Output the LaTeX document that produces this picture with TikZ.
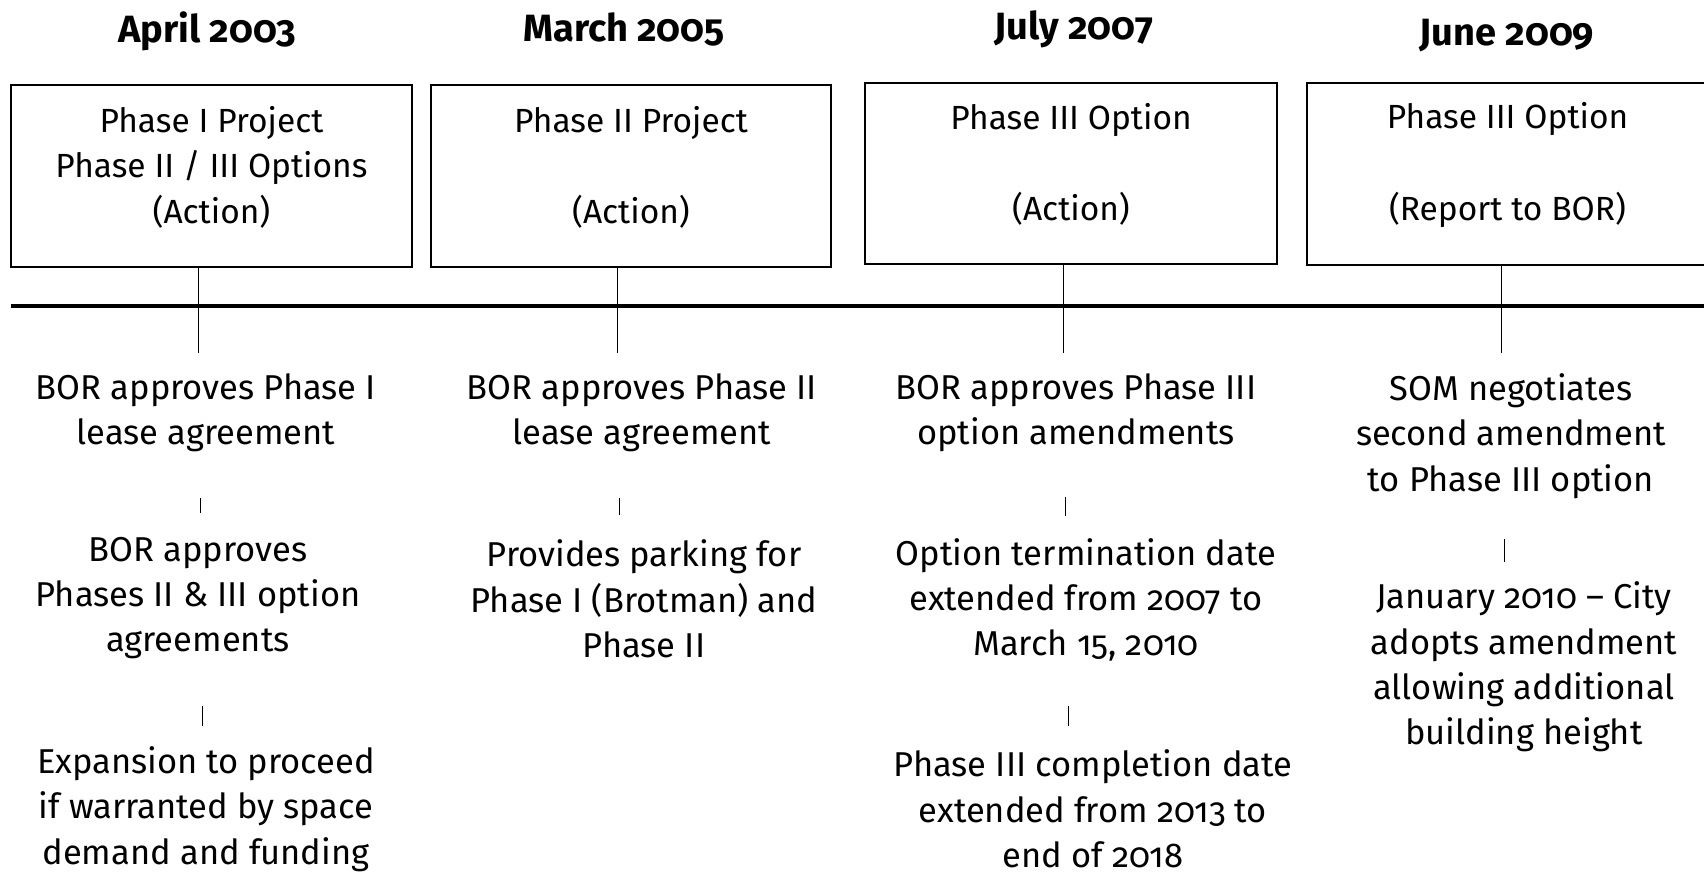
\documentclass[tikz,border=0pt]{standalone}
\usepackage{fontspec}
\setmainfont{Fira Sans}[Numbers=OldStyle]
\begin{document}
\begin{tikzpicture}[x=1pt,y=-1pt,
  phasebox/.style={draw=black,line width=1.3pt,inner sep=0pt},
  boxtext/.style={align=center,inner sep=0pt,font=\fontsize{33.5}{45.6}\selectfont},
  datelbl/.style={font=\bfseries\fontsize{38}{42}\selectfont,inner sep=0pt},
  desc/.style={align=center,inner sep=0pt,font=\fontsize{34.5}{45.4}\selectfont},
  conn/.style={line width=1pt},
  tick/.style={line width=0.9pt},
  axis/.style={line width=3.5pt}]
\useasboundingbox (0,0) rectangle (1704,874);
% dates
\node[datelbl] (d1) at (207,31) {April 2003};
\node[datelbl] (d2) at (624,29) {March 2005};
\node[datelbl] (d3) at (1074,29) {July 2007};
\node[datelbl] (d4) at (1507,36) {June 2009};
% boxes
\node[phasebox,minimum width=401pt,minimum height=182pt] (b1) at (211.5,176) {};
\node[phasebox,minimum width=400pt,minimum height=182pt] (b2) at (631,176) {};
\node[phasebox,minimum width=412pt,minimum height=181pt] (b3) at (1071,173.5) {};
\node[phasebox,minimum width=401pt,minimum height=182pt] (b4) at (1507.5,174) {};
\node[boxtext] (bt1) at ([yshift=9pt]b1.center) {Phase I Project\\Phase II / III Options\\(Action)};
\node[boxtext] (bt2) at ([yshift=9pt]b2.center) {Phase II Project\\\mbox{}\\(Action)};
\node[boxtext] (bt3) at ([yshift=9pt]b3.center) {Phase III Option\\\mbox{}\\(Action)};
\node[boxtext] (bt4) at ([yshift=9pt]b4.center) {Phase III Option\\\mbox{}\\(Report to BOR)};
% timeline
\coordinate (tl0) at (11,306);
\coordinate (tl1) at (1704,306);
\draw[axis] (tl0) -- (tl1);
% connectors
\coordinate (c1) at (198,353);
\coordinate (c2) at (617,353);
\coordinate (c3) at (1063,353);
\coordinate (c4) at (1501,353);
\draw[conn] (b1.south -| c1) -- (c1);
\draw[conn] (b2.south -| c2) -- (c2);
\draw[conn] (b3.south -| c3) -- (c3);
\draw[conn] (b4.south -| c4) -- (c4);
% column 1
\node[desc] (a1) at (206,413) {BOR approves Phase I\\lease agreement};
\coordinate (k1a) at (200,498); \coordinate (k1b) at (200,513);
\draw[tick] (k1a) -- (k1b);
\node[desc] (a2) at (198,598) {BOR approves\\Phases II \& III option\\agreements};
\coordinate (k2a) at (202,706); \coordinate (k2b) at (202,726);
\draw[tick] (k2a) -- (k2b);
\node[desc] (a3) at (206,809) {Expansion to proceed\\if warranted by space\\demand and funding};
% column 2
\node[desc] (e1) at (642,413) {BOR approves Phase II\\lease agreement};
\coordinate (k3a) at (619,498); \coordinate (k3b) at (619,515);
\draw[tick] (k3a) -- (k3b);
\node[desc] (e2) at (644,599) {Provides parking for\\Phase I (Brotman) and\\Phase II};
% column 3
\node[desc] (f1) at (1076,413) {BOR approves Phase III\\option amendments};
\coordinate (k4a) at (1065,497); \coordinate (k4b) at (1065,516);
\draw[tick] (k4a) -- (k4b);
\node[desc] (f2) at (1086,600) {Option termination date\\extended from 2007 to\\March 15, 2010};
\coordinate (k5a) at (1068,706); \coordinate (k5b) at (1068,726);
\draw[tick] (k5a) -- (k5b);
\node[desc] (f3) at (1093,809) {Phase III completion date\\extended from 2013 to\\end of 2018};
% column 4
\node[desc] (g1) at (1511,436) {SOM negotiates\\second amendment\\to Phase III option};
\coordinate (k6a) at (1504,539); \coordinate (k6b) at (1504,562);
\draw[tick] (k6a) -- (k6b);
\node[desc] (g2) at (1524,667) {January 2010 -- City\\adopts amendment\\allowing additional\\building height};
\end{tikzpicture}
\end{document}
